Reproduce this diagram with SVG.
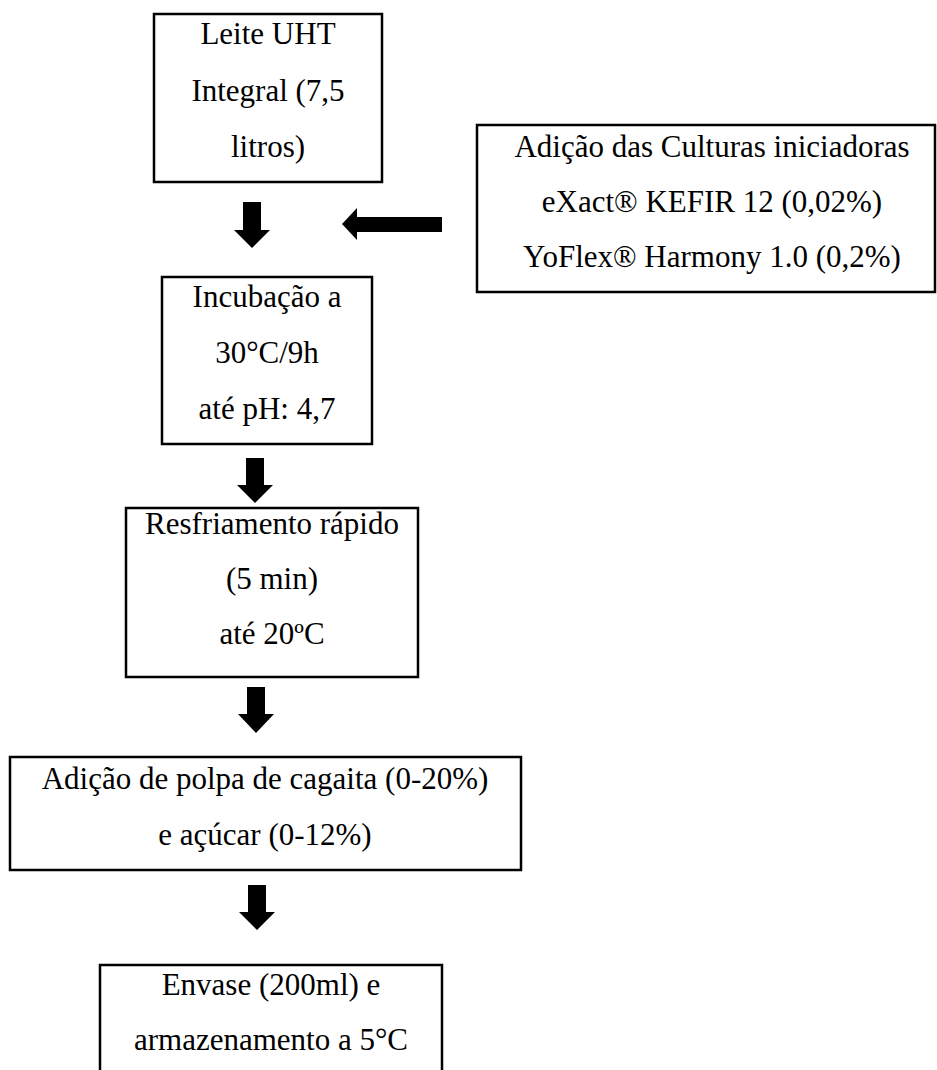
<svg xmlns="http://www.w3.org/2000/svg" width="937" height="1070" viewBox="0 0 937 1070">
  <style>
    .box { fill: #ffffff; stroke: #000000; stroke-width: 2.5; }
    .lbl { font-family: "Liberation Serif", "Times New Roman", serif; font-size: 31px; fill: #000000; text-anchor: middle; }
    .arrow { fill: #000000; stroke: none; }
  </style>
  <rect x="0" y="0" width="937" height="1070" fill="#ffffff"/>

  <!-- process steps -->
  <g id="leite">
    <rect class="box" x="154" y="14" width="228" height="168"/>
    <text class="lbl" x="268" y="44">Leite UHT</text>
    <text class="lbl" x="268" y="101">Integral (7,5</text>
    <text class="lbl" x="268" y="157">litros)</text>
  </g>

  <g id="culturas">
    <rect class="box" x="477" y="125" width="458" height="167"/>
    <text class="lbl" x="712" y="157">Adição das Culturas iniciadoras</text>
    <text class="lbl" x="712" y="212">eXact® KEFIR 12 (0,02%)</text>
    <text class="lbl" x="712" y="267">YoFlex® Harmony 1.0 (0,2%)</text>
  </g>

  <g id="incubacao">
    <rect class="box" x="162" y="277" width="210" height="167"/>
    <text class="lbl" x="267" y="307">Incubação a</text>
    <text class="lbl" x="267" y="363">30°C/9h</text>
    <text class="lbl" x="267" y="419">até pH: 4,7</text>
  </g>

  <g id="resfriamento">
    <rect class="box" x="126" y="508" width="292" height="169"/>
    <text class="lbl" x="272" y="534">Resfriamento rápido</text>
    <text class="lbl" x="272" y="589">(5 min)</text>
    <text class="lbl" x="272" y="644">até 20ºC</text>
  </g>

  <g id="polpa">
    <rect class="box" x="10" y="757" width="511" height="113"/>
    <text class="lbl" x="265" y="789">Adição de polpa de cagaita (0-20%)</text>
    <text class="lbl" x="265" y="845">e açúcar (0-12%)</text>
  </g>

  <g id="envase">
    <rect class="box" x="100" y="965" width="342" height="120"/>
    <text class="lbl" x="271" y="995">Envase (200ml) e</text>
    <text class="lbl" x="271" y="1050">armazenamento a 5°C</text>
  </g>

  <!-- block arrows between steps -->
  <g id="connectors">
    <polygon class="arrow" points="243,202 261,202 261,230 270,230 252,248 234,230 243,230"/>
    <polygon class="arrow" points="442,217 442,232 357,232 357,240 342,224 357,208 357,217"/>
    <polygon class="arrow" points="246,458 264,458 264,485 273,485 255,503 237,485 246,485"/>
    <polygon class="arrow" points="247,687 265,687 265,714 274,714 256,733 238,714 247,714"/>
    <polygon class="arrow" points="248,885 266,885 266,912 275,912 257,930 239,912 248,912"/>
  </g>
</svg>
